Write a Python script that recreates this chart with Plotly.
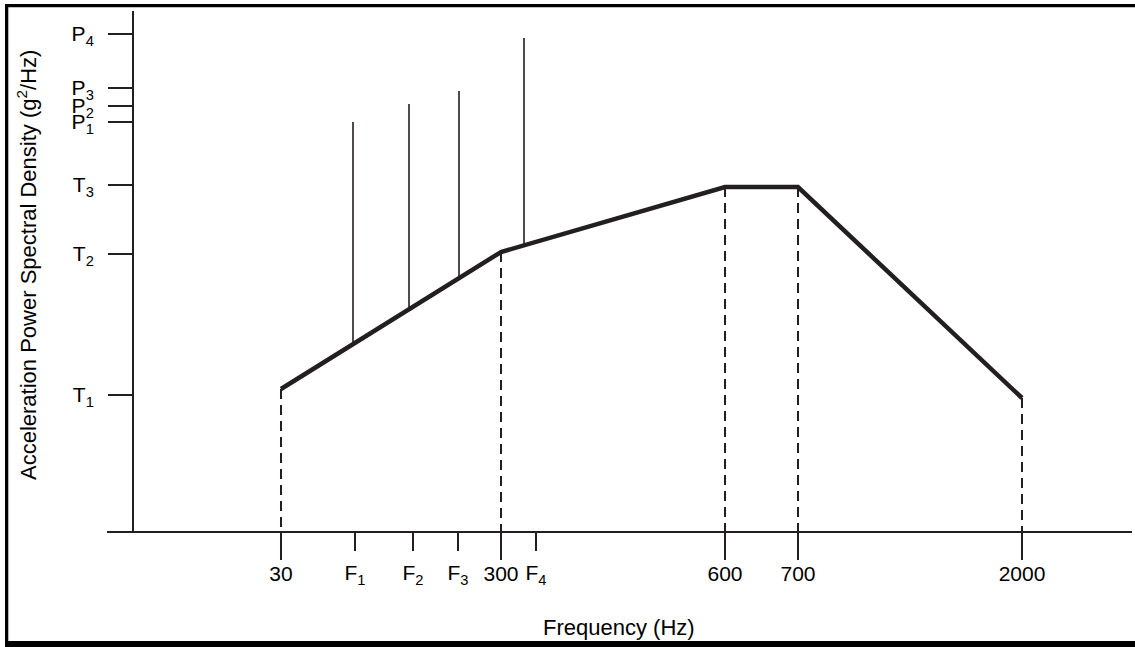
import plotly.graph_objects as go

# ---------------- data (schematic positions, axis units) ----------------
# x axis: frequency break-points and sine-tone frequencies
freq_major_labels = ["30", "300", "600", "700", "2000"]
freq_major_pos = [174, 394, 618, 691, 915]
freq_tone_labels = ["F<sub>1</sub>", "F<sub>2</sub>", "F<sub>3</sub>", "F<sub>4</sub>"]
freq_tone_pos = [248, 306, 351, 429]

# y axis: PSD levels
level_labels = ["T<sub>1</sub>", "T<sub>2</sub>", "T<sub>3</sub>",
                "P<sub>1</sub>", "P<sub>2</sub>", "P<sub>3</sub>", "P<sub>4</sub>"]
level_pos = [136, 277, 346, 409, 425, 443, 497]

# random-vibration PSD profile (break points)
profile_x = [174, 394, 618, 691, 915]
profile_y = [142, 279, 344, 344, 133]

# sine tones superimposed on the profile
tone_x = [246, 302, 352, 417]
tone_base = [187, 222, 253, 286]
tone_top = [409, 427, 440, 493]

X_RANGE = [0, 1025]
Y_RANGE = [0, 520]
YAXIS_AT = 25

# ---------------- styling ----------------
W, H = 1135, 647
ML, MR, MT, MB = 107, 3, 11, 116
INK = "#231f20"
FONT = "Liberation Sans, Arial, sans-serif"

pw = W - ML - MR
ph = H - MT - MB


def px_x(px):
    return (px - ML) / pw


def px_y(py):
    return (H - MB - py) / ph


fig = go.Figure()

# dashed drop lines from the profile break points to the frequency axis
for xv, yv in zip(profile_x, profile_y):
    fig.add_trace(go.Scatter(
        x=[xv, xv], y=[yv, Y_RANGE[0]], mode="lines",
        line=dict(color=INK, width=2, dash="10px,6px"),
        hoverinfo="skip", showlegend=False, cliponaxis=False))

# sine tones
for xv, b, t in zip(tone_x, tone_base, tone_top):
    fig.add_trace(go.Scatter(
        x=[xv, xv], y=[b, t], mode="lines", xaxis="x2",
        line=dict(color=INK, width=1.6),
        hoverinfo="skip", showlegend=False))

# profile
fig.add_trace(go.Scatter(
    x=profile_x, y=profile_y, mode="lines",
    line=dict(color=INK, width=4.5),
    hoverinfo="skip", showlegend=False))

tickfont = dict(family=FONT, size=21, color="black")

fig.update_layout(
    width=W, height=H,
    margin=dict(l=ML, r=MR, t=MT, b=MB, pad=0),
    paper_bgcolor="white", plot_bgcolor="white",
    showlegend=False, hovermode=False,
    xaxis=dict(
        range=X_RANGE, showgrid=False, zeroline=False,
        showline=True, linecolor=INK, linewidth=1.8,
        tickmode="array", tickvals=freq_major_pos, ticktext=freq_major_labels,
        ticks="outside", ticklen=27, tickwidth=1.8, tickcolor=INK,
        tickfont=tickfont, ticklabelstandoff=-4,
        anchor="y", fixedrange=True),
    xaxis2=dict(
        range=X_RANGE, overlaying="x", side="bottom", anchor="y",
        showgrid=False, zeroline=False, showline=False,
        tickmode="array", tickvals=freq_tone_pos, ticktext=freq_tone_labels,
        ticks="outside", ticklen=19, tickwidth=1.8, tickcolor=INK,
        tickfont=tickfont, ticklabelstandoff=4, fixedrange=True),
    yaxis=dict(
        range=Y_RANGE, showgrid=False, zeroline=False,
        showline=True, linecolor=INK, linewidth=1.8,
        anchor="free", position=YAXIS_AT / (X_RANGE[1] - X_RANGE[0]),
        tickmode="array", tickvals=level_pos, ticktext=level_labels,
        ticks="outside", ticklen=24, tickwidth=1.8, tickcolor=INK,
        tickfont=tickfont, ticklabelstandoff=10, fixedrange=True),
)

# axis titles
fig.add_annotation(
    text="Acceleration Power Spectral Density (g<sup>2</sup>/Hz)",
    xref="paper", yref="paper", x=px_x(27), y=px_y(265),
    xanchor="center", yanchor="middle", textangle=-90, showarrow=False,
    font=dict(family=FONT, size=22, color="black"))
fig.add_annotation(
    text="Frequency (Hz)",
    xref="paper", yref="paper", x=px_x(619), y=px_y(627),
    xanchor="center", yanchor="middle", showarrow=False,
    font=dict(family=FONT, size=22, color="black"))

# picture frame (top, left, bottom)
frame = [
    (5, 1135, 4, 7.3),
    (5, 8.3, 4, 647),
    (5, 1135, 641, 647),
]
for x0, x1, y0, y1 in frame:
    fig.add_shape(type="rect", xref="paper", yref="paper",
                  x0=px_x(x0), x1=px_x(x1), y0=px_y(y1), y1=px_y(y0),
                  fillcolor="black", line=dict(width=0), layer="above")

fig.write_html(
    "out.html",
    config=dict(displayModeBar=False, staticPlot=True),
    post_script="document.body.style.margin='0';document.body.style.overflow='hidden';",
)
